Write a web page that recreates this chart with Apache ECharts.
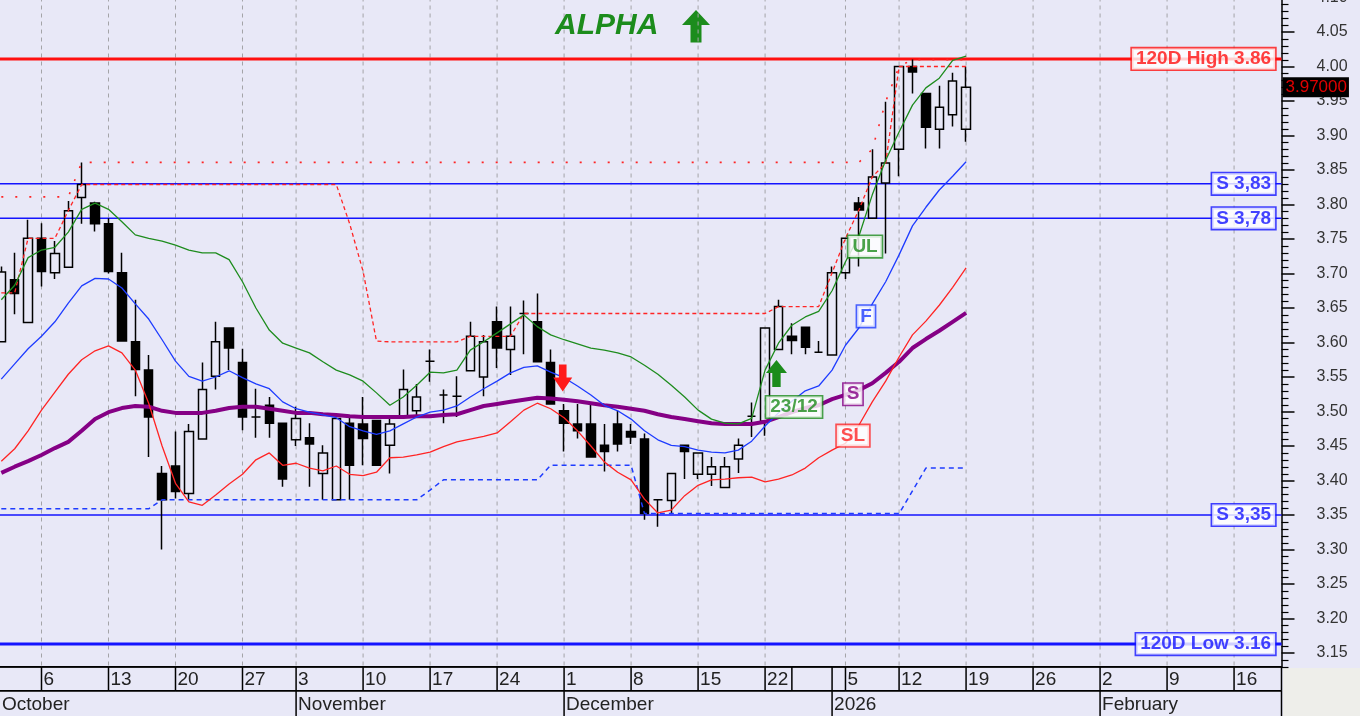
<!DOCTYPE html>
<html><head><meta charset="utf-8">
<script src="https://cdn.jsdelivr.net/npm/echarts@6/dist/echarts.min.js"></script>
<style>html,body{margin:0;padding:0;background:#E8E8F7}#c{width:1360px;height:716px}</style>
</head><body><div id="c"></div>
<script>
// ---------------- DATA ----------------
const tradingDays = [
'2025-10-01','2025-10-02','2025-10-03','2025-10-06','2025-10-07','2025-10-08','2025-10-09','2025-10-10',
'2025-10-13','2025-10-14','2025-10-15','2025-10-16','2025-10-17','2025-10-20','2025-10-21','2025-10-22',
'2025-10-23','2025-10-24','2025-10-27','2025-10-29','2025-10-30','2025-10-31',
'2025-11-03','2025-11-04','2025-11-05','2025-11-06','2025-11-07','2025-11-10','2025-11-11','2025-11-12',
'2025-11-13','2025-11-14','2025-11-17','2025-11-18','2025-11-19','2025-11-20','2025-11-21','2025-11-24',
'2025-11-25','2025-11-26','2025-11-27','2025-11-28',
'2025-12-01','2025-12-02','2025-12-03','2025-12-04','2025-12-05','2025-12-08','2025-12-09','2025-12-10',
'2025-12-11','2025-12-12','2025-12-15','2025-12-16','2025-12-17','2025-12-18','2025-12-19','2025-12-22',
'2025-12-23','2025-12-29','2025-12-30','2025-12-31',
'2026-01-02','2026-01-05','2026-01-07','2026-01-08','2026-01-09','2026-01-12','2026-01-13','2026-01-14',
'2026-01-15','2026-01-16','2026-01-19'];
const futureDays = [
'2026-01-20','2026-01-21','2026-01-22','2026-01-23','2026-01-26','2026-01-27','2026-01-28','2026-01-29',
'2026-01-30','2026-02-02','2026-02-03','2026-02-04','2026-02-05','2026-02-06','2026-02-09','2026-02-10',
'2026-02-11','2026-02-12','2026-02-13','2026-02-16','2026-02-17','2026-02-18','2026-02-19'];

const open = [
3.601,3.691,3.629,3.751,3.701,3.709,3.810,3.802,3.772,3.701,
3.601,3.560,3.410,3.421,3.381,3.460,3.551,3.621,3.571,3.492,
3.509,3.483,3.459,3.462,3.410,3.372,3.483,3.482,3.487,3.451,
3.492,3.501,3.573,3.524,3.522,3.559,3.550,3.630,3.590,3.642,
3.630,3.571,3.501,3.482,3.482,3.451,3.482,3.471,3.460,3.372,
3.371,3.451,3.409,3.409,3.390,3.431,3.493,3.486,3.590,3.609,
3.622,3.586,3.582,3.701,3.802,3.780,3.831,3.880,4.000,3.961,
3.909,3.930,3.909];
const close = [
3.702,3.671,3.751,3.703,3.729,3.791,3.829,3.772,3.703,3.602,
3.561,3.492,3.372,3.384,3.471,3.532,3.601,3.592,3.492,3.492,
3.483,3.402,3.490,3.453,3.440,3.490,3.422,3.461,3.422,3.482,
3.532,3.521,3.573,3.524,3.522,3.609,3.601,3.592,3.609,3.642,
3.572,3.511,3.483,3.472,3.434,3.442,3.453,3.463,3.352,3.372,
3.410,3.442,3.440,3.420,3.420,3.451,3.493,3.621,3.652,3.603,
3.593,3.586,3.701,3.751,3.792,3.840,3.860,4.000,3.992,3.912,
3.941,3.979,3.970];
const low = [
3.600,3.641,3.629,3.681,3.692,3.709,3.772,3.761,3.700,3.602,
3.522,3.434,3.300,3.374,3.372,3.460,3.532,3.560,3.473,3.462,
3.462,3.391,3.450,3.391,3.372,3.372,3.372,3.422,3.422,3.410,
3.490,3.492,3.543,3.483,3.492,3.559,3.522,3.563,3.553,3.583,
3.572,3.511,3.442,3.461,3.434,3.413,3.442,3.453,3.343,3.333,
3.353,3.402,3.402,3.392,3.390,3.411,3.463,3.465,3.590,3.583,
3.583,3.586,3.582,3.692,3.710,3.780,3.729,3.841,3.961,3.881,
3.881,3.913,3.891];
const high = [
3.710,3.730,3.778,3.773,3.747,3.805,3.861,3.804,3.780,3.730,
3.662,3.582,3.421,3.471,3.482,3.571,3.630,3.621,3.591,3.533,
3.521,3.483,3.507,3.483,3.451,3.490,3.492,3.521,3.487,3.495,
3.561,3.540,3.590,3.532,3.551,3.630,3.611,3.652,3.652,3.661,
3.671,3.590,3.511,3.511,3.511,3.482,3.501,3.482,3.468,3.372,
3.410,3.451,3.440,3.434,3.434,3.461,3.513,3.621,3.662,3.628,
3.622,3.602,3.710,3.751,3.811,3.880,3.949,4.000,4.010,3.961,
3.972,3.991,4.000];

// indicator lines
const ulLine = [
3.662,3.683,3.723,3.734,3.738,3.760,3.793,3.802,3.793,3.775,
3.756,3.751,3.747,3.741,3.734,3.730,3.730,3.720,3.688,3.650,
3.618,3.599,3.592,3.585,3.572,3.560,3.553,3.544,3.527,3.509,
3.521,3.538,3.557,3.556,3.560,3.589,3.601,3.614,3.627,3.640,
3.623,3.611,3.604,3.598,3.592,3.589,3.585,3.579,3.567,3.554,
3.538,3.521,3.502,3.489,3.483,3.482,3.490,3.560,3.599,3.625,
3.637,3.645,3.675,3.717,3.754,3.814,3.864,3.905,3.944,3.969,
3.983,4.009,4.015];
const fLine = [
3.547,3.569,3.591,3.609,3.630,3.657,3.682,3.693,3.692,3.679,
3.656,3.634,3.604,3.573,3.551,3.544,3.550,3.559,3.549,3.540,
3.533,3.514,3.504,3.499,3.495,3.491,3.478,3.472,3.467,3.472,
3.482,3.492,3.499,3.502,3.508,3.521,3.533,3.544,3.556,3.564,
3.566,3.557,3.549,3.537,3.524,3.509,3.501,3.489,3.472,3.459,
3.451,3.449,3.444,3.441,3.440,3.444,3.457,3.479,3.498,3.515,
3.530,3.537,3.560,3.596,3.621,3.656,3.688,3.727,3.769,3.796,
3.821,3.841,3.862];
const slLine = [
3.428,3.446,3.472,3.502,3.528,3.554,3.575,3.588,3.595,3.585,
3.560,3.512,3.450,3.396,3.369,3.364,3.379,3.395,3.409,3.430,
3.440,3.422,3.425,3.418,3.414,3.421,3.409,3.407,3.412,3.433,
3.434,3.437,3.441,3.449,3.456,3.460,3.464,3.469,3.485,3.502,
3.512,3.504,3.491,3.472,3.450,3.427,3.412,3.401,3.373,3.353,
3.357,3.378,3.393,3.401,3.402,3.404,3.405,3.398,3.402,3.408,
3.418,3.433,3.444,3.454,3.480,3.514,3.544,3.579,3.611,3.631,
3.654,3.680,3.708];
const sLine = [
3.411,3.420,3.428,3.437,3.447,3.456,3.472,3.489,3.499,3.505,
3.508,3.507,3.501,3.498,3.498,3.498,3.501,3.505,3.507,3.507,
3.504,3.501,3.498,3.498,3.496,3.495,3.493,3.492,3.492,3.492,
3.492,3.493,3.493,3.495,3.496,3.502,3.508,3.511,3.514,3.517,
3.520,3.519,3.517,3.515,3.512,3.509,3.507,3.504,3.501,3.496,
3.492,3.489,3.486,3.483,3.482,3.482,3.482,3.485,3.492,3.499,
3.505,3.509,3.518,3.524,3.531,3.541,3.556,3.572,3.592,3.605,
3.617,3.630,3.643];
const hiClose = [
3.672,3.672,3.751,3.751,3.751,3.791,
3.829,3.829,3.829,3.829,3.829,3.829,3.829,3.829,3.829,3.829,
3.829,3.829,3.829,3.829,3.829,3.829,3.829,3.829,3.829,3.829,
3.772,3.703,3.602,3.601,3.601,3.601,3.601,3.601,3.601,
3.609,3.609,3.609,3.609,
3.642,3.642,3.642,3.642,3.642,3.642,3.642,3.642,3.642,3.642,
3.642,3.642,3.642,3.642,3.642,3.642,3.642,3.642,3.642,
3.652,3.652,3.652,3.652,
3.701,3.751,3.792,3.840,3.860,
4.000,4.000,4.000,4.000,4.000,4.000];
const loClose = [
3.359,3.359,3.359,3.359,3.359,3.359,3.359,3.359,3.359,3.359,3.359,3.359,
3.372,3.372,3.372,3.372,3.372,3.372,3.372,3.372,3.372,3.372,
3.372,3.372,3.372,3.372,3.372,3.372,3.372,3.372,3.372,3.372,
3.386,3.401,3.401,3.401,3.401,3.401,3.401,3.401,3.401,
3.422,3.422,3.422,3.422,3.422,3.422,3.422,
3.352,3.352,3.352,3.352,3.352,3.352,3.352,3.352,3.352,3.352,
3.352,3.352,3.352,3.352,3.352,3.352,3.352,3.352,3.352,3.352,
3.385,3.418,3.418,3.418,3.418];
const hiHigh = [
3.811,3.811,3.811,3.811,3.811,3.811,
3.861,3.861,3.861,3.861,3.861,3.861,3.861,3.861,3.861,3.861,
3.861,3.861,3.861,3.861,3.861,3.861,3.861,3.861,3.861,3.861,
3.861,3.861,3.861,3.861,3.861,3.861,3.861,3.861,3.861,3.861,
3.861,3.861,3.861,3.861,3.861,3.861,3.861,3.861,3.861,3.861,
3.861,3.861,3.861,3.861,3.861,3.861,3.861,3.861,3.861,3.861,
3.861,3.861,3.861,3.861,3.861,3.861,3.861,3.861,3.861,
3.880,3.949,4.000,4.010,4.010,4.010,4.010,4.010];

// horizontal levels
const levelValues = [4.011, 3.83, 3.78, 3.35, 3.163];
const levelLabels = ['120D High 3.86', 'S 3,83', 'S 3,78', 'S 3,35', '120D Low 3.16'];

// axis tick labels
const yTickLabels = ['3.15','3.20','3.25','3.30','3.35','3.40','3.45','3.50','3.55','3.60','3.65','3.70','3.75','3.80','3.85','3.90','3.95','4.00','4.05','4.10'];
const weekTickDates = ['2025-10-06','2025-10-13','2025-10-20','2025-10-27','2025-11-03','2025-11-10','2025-11-17','2025-11-24',
  '2025-12-01','2025-12-08','2025-12-15','2025-12-22','2025-12-29','2026-01-02','2026-01-05','2026-01-12','2026-01-19',
  '2026-01-26','2026-02-02','2026-02-09','2026-02-16'];
const weekTickLabels = ['6','13','20','27','3','10','17','24','1','8','15','22','','','5','12','19','26','2','9','16'];
const monthStartDates = ['2025-10-01','2025-11-03','2025-12-01','2026-01-02','2026-02-02'];
const monthLabels = ['October','November','December','2026','February'];

// ---------------- BUILD ----------------
const axisDates = tradingDays.concat(futureDays);
const idx = d => axisDates.indexOf(d);
const X_MIN = -0.097, X_MAX = 95.54, Y_MIN = 3.13, Y_MAX = 4.10;
const FONT = "'Liberation Sans', Arial, sans-serif";
const N = tradingDays.length;
const pts = arr => arr.map((v, i) => [idx(tradingDays[i]), v]);
const candles = tradingDays.map((d, i) => [idx(d), open[i], close[i], low[i], high[i]]);

const COL = {green:'#1E8C1E', blue:'#1E3CFF', red:'#FF2424', purple:'#850085', lvlBlue:'#1414FF', lvlRed:'#FF1010'};
const levelColors = [COL.lvlRed, COL.lvlBlue, COL.lvlBlue, COL.lvlBlue, COL.lvlBlue];
const levelWidths = [3, 1.5, 1.5, 1.5, 3];

// minor tick positions (every 0.01 between axis bounds)
const minorTicks = [];
for (let k = 313; k <= 410; k++) if (k % 5 !== 0) minorTicks.push([X_MAX, k / 100]);

// strip cells
const upperCells = [[X_MIN, '']].concat(weekTickDates.map((d, i) => [idx(d), weekTickLabels[i]]));
const lowerCells = monthStartDates.map((d, i) => [i === 0 ? X_MIN : idx(d), monthLabels[i]]);
const stripData = [], stripText = [];
upperCells.forEach((c, i) => { stripData.push([c[0], i + 1 < upperCells.length ? upperCells[i + 1][0] : X_MAX, 0]); stripText.push(c[1]); });
lowerCells.forEach((c, i) => { stripData.push([c[0], i + 1 < lowerCells.length ? lowerCells[i + 1][0] : X_MAX, 1]); stripText.push(c[1]); });

const gridLineData = weekTickDates.filter((d, i) => weekTickLabels[i] !== '').map(d => [idx(d), 3.5]);

const tagLabel = (color) => ({show: true, color: color, borderColor: color});
const tags = levelValues.map((v, i) => ({name: levelLabels[i], value: [95.1, v],
  label: Object.assign(tagLabel(levelColors[i]), {position: 'left', distance: 0})}));
tags.push({name: 'UL', value: [64.46, 3.739], label: Object.assign(tagLabel(COL.green), {position: 'inside'})});
tags.push({name: 'F', value: [64.53, 3.638], label: Object.assign(tagLabel('#1E3CFF'), {position: 'inside', padding: [1, 3, 0, 3]})});
tags.push({name: 'S', value: [63.56, 3.525], label: Object.assign(tagLabel(COL.purple), {position: 'inside', padding: [1, 3, 0, 3]})});
tags.push({name: 'SL', value: [63.56, 3.465], label: Object.assign(tagLabel(COL.red), {position: 'inside'})});
tags.push({name: '23/12', value: [59.16, 3.5065], label: Object.assign(tagLabel(COL.green), {position: 'inside'})});

const thin = (name, data, color, width, type, z) => ({
  name, type: 'line', data: pts(data), symbol: 'none', silent: true, z: z || 3,
  lineStyle: {color, width, type: type || 'solid'}, animation: false
});

const option = {
  backgroundColor: '#E8E8F7',
  animation: false,
  title: {text: 'ALPHA', left: 550, top: 6,
    textStyle: {fontSize: 30, fontWeight: 'bold', fontStyle: 'italic', color: '#1C8C1C', fontFamily: FONT}},
  graphic: [
    {type: 'polygon', shape: {points: [[696,10],[710,25],[701.5,25],[701.5,42.5],[690.5,42.5],[690.5,25],[682,25]]},
     style: {fill: '#1C8C1C'}},
    {type: 'rect', shape: {x: 1283, y: 668, width: 77, height: 48}, style: {fill: '#EEEEEA'}}
  ],
  grid: {left: 0, right: 78.5, top: -2.5, bottom: 49.2, containLabel: false, outerBoundsMode: 'none'},
  xAxis: {type: 'value', min: X_MIN, max: X_MAX, axisLine: {show: true, onZero: false, lineStyle: {color: '#000', width: 1.5}},
    axisTick: {show: false}, axisLabel: {show: false}, splitLine: {show: false}},
  yAxis: {type: 'value', position: 'right', min: Y_MIN, max: Y_MAX, splitNumber: 20,
     axisLine: {show: true, onZero: false, lineStyle: {color: '#000', width: 1.5}},
     axisTick: {show: true, length: 13, inside: false, customValues: yTickLabels.map(Number), lineStyle: {color: '#000', width: 1.5}},
     axisLabel: {show: true, customValues: yTickLabels.map(Number), margin: 35, color: '#333', fontSize: 16, fontFamily: FONT,
       formatter: v => Number(v).toFixed(2)},
     splitLine: {show: false}},
  series: [
    { // vertical week grid lines
      type: 'custom', z: 1, silent: true, data: gridLineData, encode: {x: 0, y: 1},
      renderItem: (params, api) => {
        const cs = params.coordSys;
        const x = api.coord([api.value(0), 3.5])[0];
        return {type: 'line', shape: {x1: x, y1: cs.y, x2: x, y2: cs.y + cs.height},
          style: {stroke: '#A4A4A8', lineWidth: 1, lineDash: [4, 4]}};
      }
    },
    { // minor y-axis ticks
      type: 'custom', z: 2, silent: true, clip: false, data: minorTicks, encode: {x: 0, y: 1},
      renderItem: (params, api) => {
        const cs = params.coordSys;
        const y = Math.round(api.coord([X_MAX, api.value(1)])[1]) + 0.5;
        const x = cs.x + cs.width;
        return {type: 'line', shape: {x1: x, y1: y, x2: x + 7, y2: y}, style: {stroke: '#000', lineWidth: 1.2}};
      }
    },
    { // horizontal levels
      type: 'custom', z: 2, silent: true, data: levelValues.map(v => [X_MIN, v]), encode: {x: 0, y: 1},
      renderItem: (params, api) => {
        const cs = params.coordSys;
        const y = api.coord([X_MIN, api.value(1)])[1];
        return {type: 'line', shape: {x1: cs.x, y1: y, x2: cs.x + cs.width, y2: y},
          style: {stroke: levelColors[params.dataIndex], lineWidth: levelWidths[params.dataIndex]}};
      }
    },
    {
      type: 'candlestick', z: 3, silent: true, data: candles, encode: {x: 0, y: [1, 2, 3, 4]},
      barWidth: 9,
      itemStyle: {color: 'rgba(0,0,0,0)', color0: '#000', borderColor: '#000', borderColor0: '#000',
        borderColorDoji: '#000', borderWidth: 1.5},
      markLine: {silent: true, symbol: 'none', z: 20,
        data: [{yAxis: close[N - 1]}],
        lineStyle: {color: 'rgba(0,0,0,0)', width: 1},
        label: {show: true, position: 'end', distance: 1, formatter: () => close[N - 1].toFixed(5),
          backgroundColor: '#000', color: '#E00000', fontSize: 17, fontFamily: FONT, padding: [2, 2, 1, 3]}},
      markPoint: {silent: true, z: 20, label: {show: false},
        data: [
          {coord: [41.9, 3.5486], symbol: 'path://M6,0 L14,0 L14,13 L20,13 L10,27 L0,13 L6,13 Z', symbolSize: [19, 27],
           symbolKeepAspect: false, itemStyle: {color: '#FF1A1A'}},
          {coord: [57.85, 3.5551], symbol: 'path://M10,0 L20,13 L14,13 L14,27 L6,27 L6,13 L0,13 Z', symbolSize: [21, 27],
           symbolKeepAspect: false, itemStyle: {color: '#1C8C1C'}}
        ]}
    },
    thin('hiHigh', hiHigh, COL.red, 1.6, [2, 12], 4),
    thin('hiClose', hiClose, COL.red, 1.3, [4, 3], 4),
    thin('loClose', loClose, COL.blue, 1.5, [5, 4], 4),
    thin('S', sLine, COL.purple, 4, 'solid', 5),
    thin('SL', slLine, COL.red, 1.3, 'solid', 6),
    thin('F', fLine, COL.blue, 1.3, 'solid', 6),
    thin('UL', ulLine, COL.green, 1.3, 'solid', 6),
    {
      type: 'scatter', z: 10, silent: true, data: tags, symbolSize: 1,
      itemStyle: {color: 'rgba(0,0,0,0)'},
      label: {show: true, formatter: '{b}', fontSize: 19, fontWeight: 'bold', fontFamily: FONT,
        backgroundColor: '#FFFFFF', borderWidth: 1.6, padding: [1, 4, 0, 4], lineHeight: 20}
    },
    { // date strip
      type: 'custom', z: 10, silent: true, clip: false, data: stripData, encode: {x: 0, y: 2},
      renderItem: (params, api) => {
        const c = stripData[params.dataIndex];
        const cs = params.coordSys;
        const x0 = api.coord([c[0], 3.5])[0], x1 = api.coord([c[1], 3.5])[0];
        const bottom = cs.y + cs.height;
        const top = c[2] === 0 ? bottom : bottom + 24;
        const h = c[2] === 0 ? 24 : 26;
        const st = {stroke: '#000', lineWidth: 1.5};
        const ch = [
          {type: 'line', shape: {x1: x0, y1: top, x2: x1, y2: top}, style: st},
          {type: 'line', shape: {x1: x0, y1: top + h, x2: x1, y2: top + h}, style: st}
        ];
        if (x0 > 3) ch.push({type: 'line', shape: {x1: x0, y1: top, x2: x0, y2: top + h}, style: st});
        if (c[1] === X_MAX) ch.push({type: 'line', shape: {x1: x1, y1: top, x2: x1, y2: top + h}, style: st});
        const t = stripText[params.dataIndex];
        if (t) ch.push({type: 'text', style: {text: t, x: x0 + 2, y: top + h / 2 + 1, align: 'left', verticalAlign: 'middle',
          fill: '#222', font: '19px ' + FONT}});
        return {type: 'group', children: ch};
      }
    }
  ]
};
const chart = echarts.init(document.getElementById('c'));
chart.setOption(option);
</script></body></html>
